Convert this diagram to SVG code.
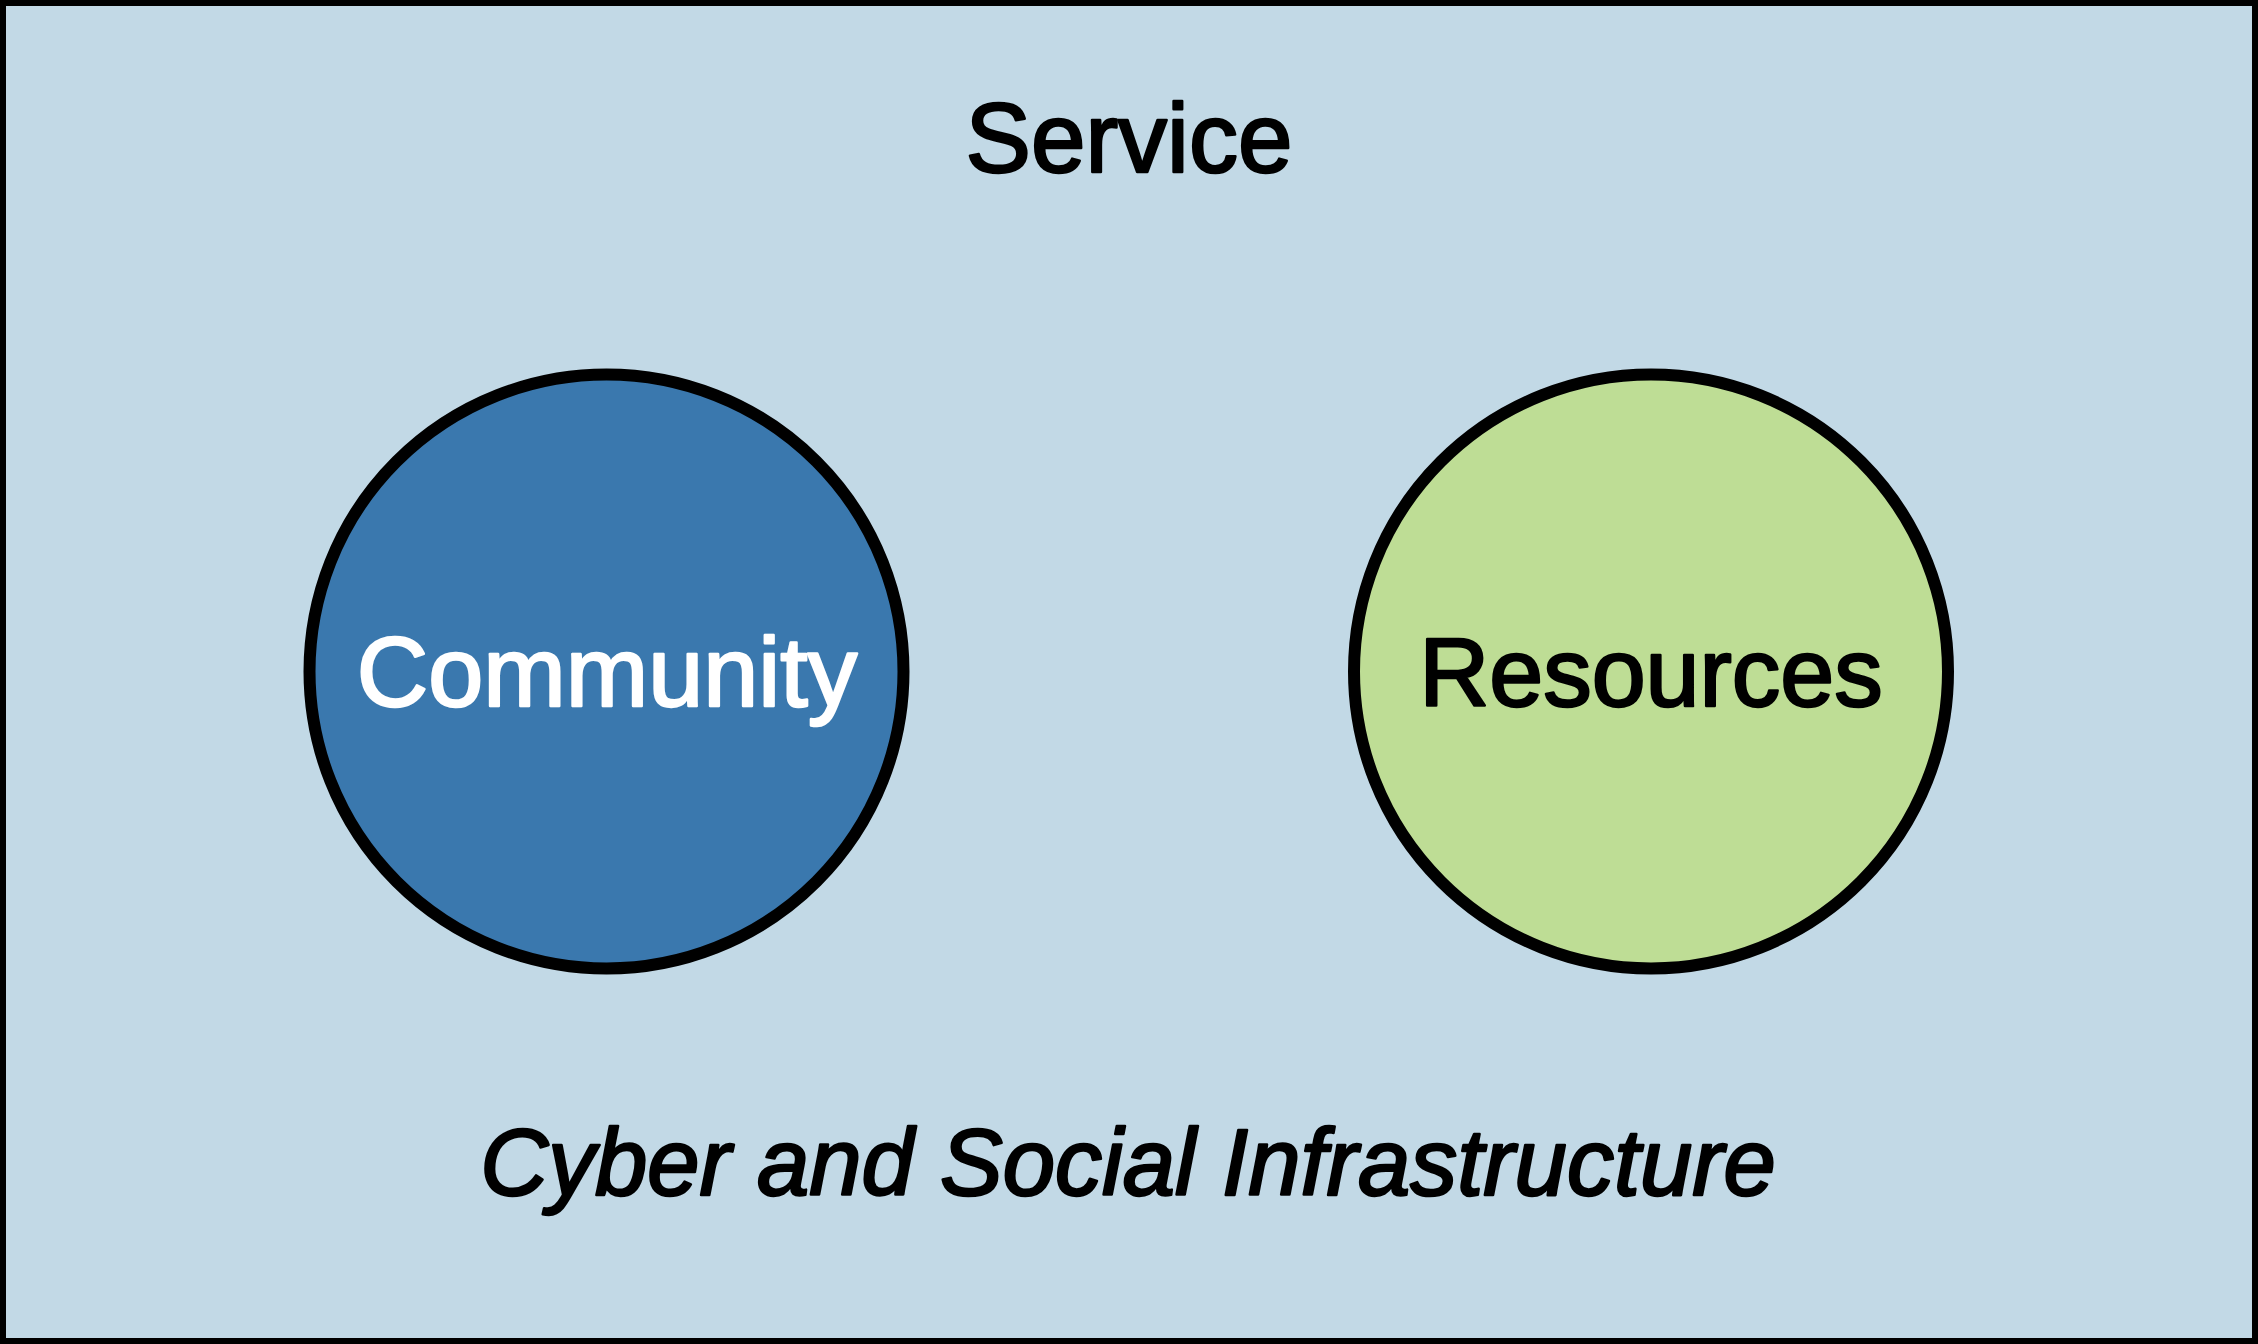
<svg xmlns="http://www.w3.org/2000/svg" width="2258" height="1344" viewBox="0 0 2258 1344">
<style>
.lbl{font-family:"Liberation Sans",Arial,Helvetica,sans-serif;text-anchor:middle;stroke-width:2.5;stroke-linejoin:round}
.dark{fill:#000;stroke:#000}
.light{fill:#fff;stroke:#fff}
.node{stroke:#000;stroke-width:12}
</style>
<rect id="frame" x="3" y="3" width="2252" height="1338" fill="#C2D9E6" stroke="#000" stroke-width="6"/>
<text id="service" class="lbl dark" x="1129" y="172" font-size="98">Service</text>
<g id="community">
<circle class="node" cx="606.5" cy="671.5" r="297" fill="#3A78AE"/>
<text class="lbl light" x="607" y="706" font-size="99">Community</text>
</g>
<g id="resources">
<circle class="node" cx="1651" cy="671.5" r="297" fill="#BEDD95"/>
<text class="lbl dark" x="1651" y="706" font-size="97">Resources</text>
</g>
<g id="connectors"></g>
<text id="infra" class="lbl dark" x="1128" y="1195" font-size="94" font-style="italic">Cyber and Social Infrastructure</text>
</svg>
